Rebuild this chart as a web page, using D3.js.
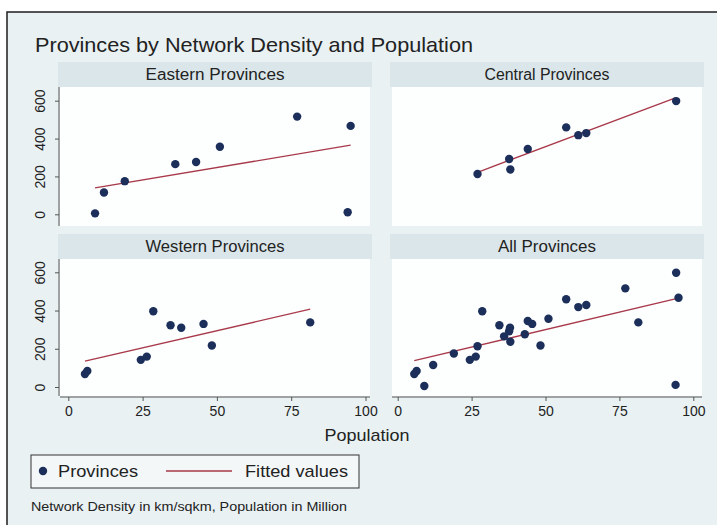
<!DOCTYPE html>
<html>
<head>
<meta charset="utf-8">
<script src="https://cdn.jsdelivr.net/npm/d3@7/dist/d3.min.js"></script>
<style>
  html, body { margin: 0; padding: 0; background: #ffffff; }
  svg { display: block; font-family: "Liberation Sans", Arial, sans-serif; }
</style>
</head>
<body>
<svg id="chart" width="717" height="525"></svg>
<script>
// ---- Data (Population in million, Network density in km/sqkm) ----
const easternPop     = [9, 12, 19, 36, 43, 51, 77, 95, 94];
const easternDensity = [5, 115, 175, 265, 276, 357, 516, 467, 11];

const centralPop     = [27, 37.7, 38.1, 44, 57, 61.1, 63.8, 94.2];
const centralDensity = [213, 292, 237, 345, 459, 418, 429, 598];

const westernPop     = [5.6, 6.4, 24.4, 26.4, 28.6, 34.4, 38, 45.5, 48.3, 81.4];
const westernDensity = [68, 84, 142, 159, 396, 323, 310, 330, 217, 338];

const panelTitles = ["Eastern Provinces", "Central Provinces", "Western Provinces", "All Provinces"];
const xTicks = [0, 25, 50, 75, 100];
const yTicks = [0, 200, 400, 600];

// ---- Build table ----
function zipPts(xs, ys) { return xs.map((x, i) => ({x: x, y: ys[i]})); }
const east = zipPts(easternPop, easternDensity);
const cent = zipPts(centralPop, centralDensity);
const west = zipPts(westernPop, westernDensity);
const all = east.concat(cent, west);
const panelData = [east, cent, west, all];

// ---- Layout ----
const svg = d3.select("#chart");
const bg = "#e9f1f3", strip = "#dbe6ea", plotBg = "#fdfefe";
const dotColor = "#1b2f5a", lineColor = "#a8394a", textColor = "#222";

svg.append("rect").attr("x", 7).attr("y", 12).attr("width", 730).attr("height", 530)
  .attr("fill", bg).attr("stroke", "#1e1e1e").attr("stroke-width", 1.5);

svg.append("text").attr("x", 35).attr("y", 52).attr("font-size", 21)
  .attr("textLength", 438).attr("lengthAdjust", "spacingAndGlyphs")
  .attr("fill", textColor).text("Provinces by Network Density and Population");

const colRange = [[68.3, 365.5], [397.7, 693.3]];
const colRect  = [[60, 370], [392, 702]];
const rowRange = [[214.3, 100.7], [387, 272.3]];
const rowRect  = [[87, 226], [259, 396]];
const stripLen = [139, 125, 139, 98];

function fit(pts) {
  const mx = d3.mean(pts, d => d.x), my = d3.mean(pts, d => d.y);
  const sxy = d3.sum(pts, d => (d.x - mx) * (d.y - my));
  const sxx = d3.sum(pts, d => (d.x - mx) ** 2);
  const b = sxy / sxx, a = my - b * mx;
  const [x0, x1] = d3.extent(pts, d => d.x);
  return [{x: x0, y: a + b * x0}, {x: x1, y: a + b * x1}];
}

panelData.forEach((pts, i) => {
  const col = i % 2, row = Math.floor(i / 2);
  const x = d3.scaleLinear().domain([0, 100]).range(colRange[col]);
  const y = d3.scaleLinear().domain([0, 600]).range(rowRange[row]);
  const [rx0, rx1] = colRect[col], [ry0, ry1] = rowRect[row];
  const g = svg.append("g");

  g.append("rect").attr("x", rx0 - 2).attr("y", ry0 - 25).attr("width", rx1 - rx0 + 4).attr("height", 25)
    .attr("fill", strip);
  g.append("text").attr("x", (rx0 + rx1) / 2).attr("y", ry0 - 7).attr("text-anchor", "middle")
    .attr("font-size", 16).attr("textLength", stripLen[i]).attr("lengthAdjust", "spacingAndGlyphs")
    .attr("fill", textColor).text(panelTitles[i]);
  g.append("rect").attr("x", rx0).attr("y", ry0).attr("width", rx1 - rx0).attr("height", ry1 - ry0)
    .attr("fill", plotBg);

  if (col === 0) {
    const ya = g.append("g").attr("transform", `translate(${rx0 - 1},0)`)
      .call(d3.axisLeft(y).tickValues(yTicks).tickSize(4).tickPadding(4).tickSizeOuter(0));
    ya.select(".domain").attr("d", `M0,${ry0}V${ry1}`).attr("stroke", "#555");
    ya.selectAll(".tick line").attr("stroke", "#555");
    ya.selectAll(".tick text").attr("font-size", 14).attr("fill", textColor)
      .attr("transform", "rotate(-90)").attr("text-anchor", "middle")
      .attr("x", 0).attr("y", -14).attr("dy", "0");
  }
  if (row === 1) {
    const xa = g.append("g").attr("transform", `translate(0,${ry1 + 1})`)
      .call(d3.axisBottom(x).tickValues(xTicks).tickSize(4).tickPadding(5).tickSizeOuter(0));
    xa.select(".domain").attr("d", `M${rx0},0H${rx1}`).attr("stroke", "#555");
    xa.selectAll(".tick line").attr("stroke", "#555");
    xa.selectAll(".tick text").attr("font-size", 14).attr("fill", textColor);
  }

  const fl = fit(pts);
  g.append("path").attr("d", d3.line().x(d => x(d.x)).y(d => y(d.y))(fl))
    .attr("stroke", lineColor).attr("stroke-width", 1.3).attr("fill", "none");
  g.selectAll("circle").data(pts).join("circle")
    .attr("cx", d => x(d.x)).attr("cy", d => y(d.y)).attr("r", 4.2).attr("fill", dotColor);
});

svg.append("text").attr("x", 367).attr("y", 441).attr("text-anchor", "middle")
  .attr("font-size", 17).attr("textLength", 85).attr("lengthAdjust", "spacingAndGlyphs")
  .attr("fill", textColor).text("Population");

svg.append("rect").attr("x", 31).attr("y", 455).attr("width", 328).attr("height", 33)
  .attr("fill", "#f3f7f8").attr("stroke", "#333").attr("stroke-width", 1);
svg.append("circle").attr("cx", 43).attr("cy", 471).attr("r", 4.2).attr("fill", dotColor);
svg.append("text").attr("x", 58).attr("y", 477).attr("font-size", 17)
  .attr("textLength", 80).attr("lengthAdjust", "spacingAndGlyphs")
  .attr("fill", textColor).text("Provinces");
svg.append("line").attr("x1", 166).attr("x2", 232).attr("y1", 471).attr("y2", 471)
  .attr("stroke", lineColor).attr("stroke-width", 1.3);
svg.append("text").attr("x", 245).attr("y", 477).attr("font-size", 17)
  .attr("textLength", 103).attr("lengthAdjust", "spacingAndGlyphs")
  .attr("fill", textColor).text("Fitted values");

svg.append("text").attr("x", 31).attr("y", 511).attr("font-size", 12.5)
  .attr("textLength", 316).attr("lengthAdjust", "spacingAndGlyphs")
  .attr("fill", textColor).text("Network Density in km/sqkm, Population in Million");
</script>
</body>
</html>
